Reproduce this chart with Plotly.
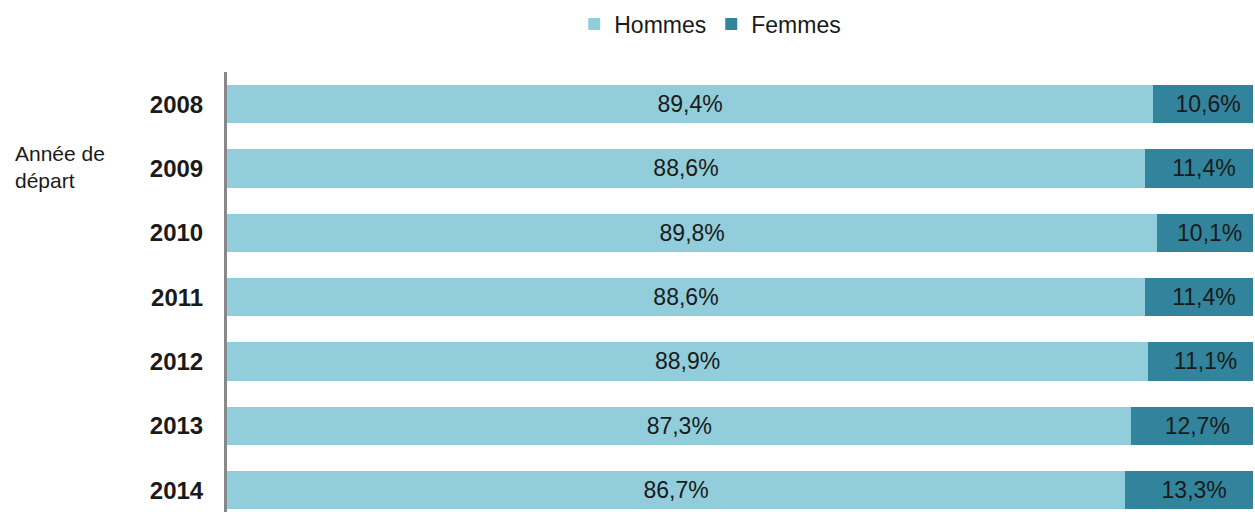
import plotly.graph_objects as go

years = ["2008", "2009", "2010", "2011", "2012", "2013", "2014"]
hommes = [89.4, 88.6, 89.8, 88.6, 88.9, 87.3, 86.7]
femmes = [10.6, 11.4, 10.1, 11.4, 11.1, 12.7, 13.3]

FONT = "Liberation Sans Narrow, Arial Narrow, Liberation Sans, sans-serif"

def fmt(v):
    return f"{v:.1f}".replace(".", ",") + "%"

fig = go.Figure()
fig.add_trace(go.Bar(
    y=years, x=hommes, orientation="h", name="Hommes",
    marker=dict(color="#92CDDC", line=dict(width=0)),
    text=[fmt(v) for v in hommes], textposition="inside",
    insidetextanchor="middle", textangle=0,
    textfont=dict(family=FONT, size=23, color="#1a1a1a"),
))
fig.add_trace(go.Bar(
    y=years, x=femmes, orientation="h", name="Femmes",
    marker=dict(color="#31849B", line=dict(width=0)),
    text=[fmt(v) for v in femmes], textposition="inside",
    insidetextanchor="middle", textangle=0,
    textfont=dict(family=FONT, size=23, color="#1a1a1a"),
))

fig.update_layout(
    width=1255, height=512,
    barmode="stack", bargap=0.4,
    plot_bgcolor="white", paper_bgcolor="white",
    margin=dict(l=227, r=2, t=72, b=0),
    font=dict(family=FONT, size=23, color="#1a1a1a"),
    legend=dict(orientation="h", x=0.471, xanchor="center", y=1 - 24 / 512, yref="container",
                yanchor="middle", font=dict(family=FONT, size=23, color="#1a1a1a"),
                traceorder="normal", itemwidth=30),
    xaxis=dict(range=[0, 99.03], showgrid=False, zeroline=False, showticklabels=False,
               showline=False, fixedrange=True),
    yaxis=dict(categoryorder="array", categoryarray=years, range=[6.34, -0.5],
               autorange=False, showgrid=False, zeroline=False,
               showline=True, linecolor="#888888", linewidth=3,
               tickfont=dict(family=FONT, size=24, color="#1a1a1a", weight="bold"),
               ticks="", ticklabelstandoff=16),
    annotations=[dict(text="Année de<br>départ", xref="paper", yref="paper",
                      x=(13 - 227) / 1026, y=1 - (140 - 72) / 440, xanchor="left",
                      yanchor="top", align="left", showarrow=False,
                      font=dict(family=FONT, size=21, color="#1a1a1a"))],
)

fig.write_html("out.html", config={"displayModeBar": False},
               post_script="document.body.style.margin='0';")
